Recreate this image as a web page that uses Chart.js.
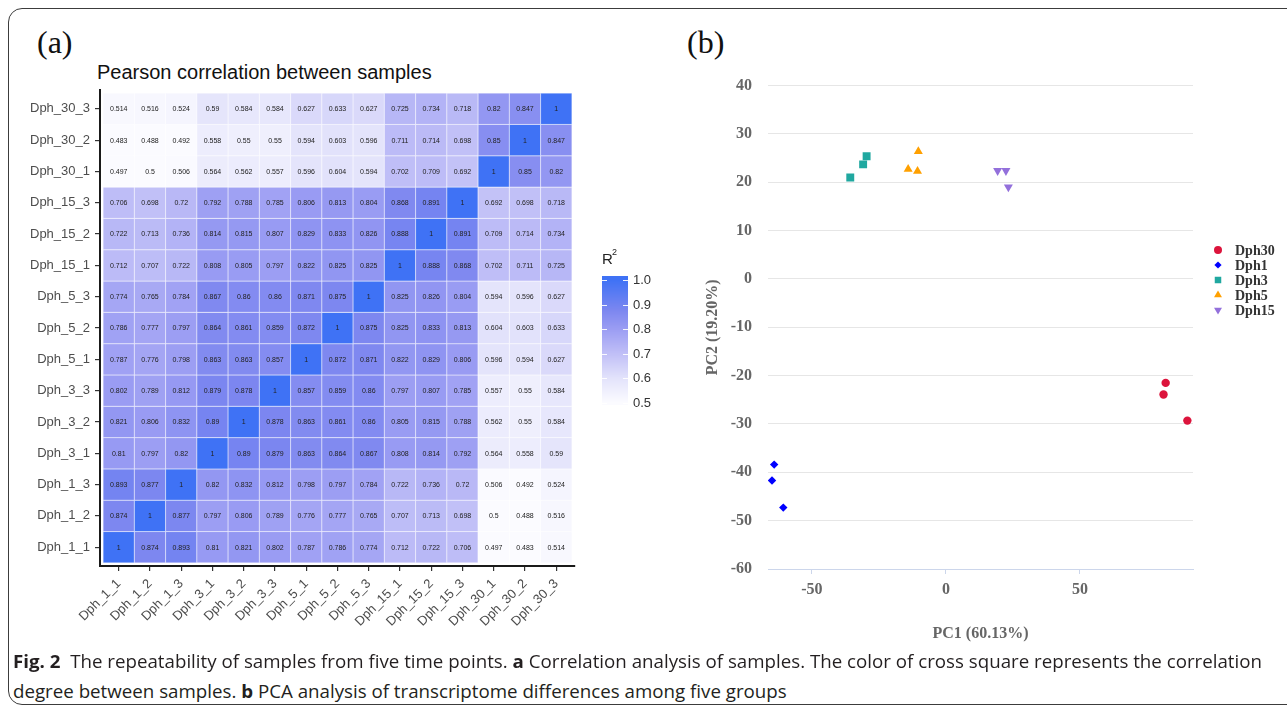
<!DOCTYPE html>
<html><head><meta charset="utf-8">
<script src="https://cdn.jsdelivr.net/npm/chart.js@4.4.1/dist/chart.umd.min.js"></script>
<style>
html,body{margin:0;padding:0;width:1287px;height:711px;overflow:hidden;background:#fff;}
#frame{position:absolute;left:8px;top:8px;width:1330px;height:697px;border:1.5px solid #3c3c3c;border-radius:14px;box-sizing:border-box;}
.panel{position:absolute;font-family:'Liberation Serif','Times New Roman',serif;font-size:32px;color:#111;line-height:32px;}
#pa{left:37px;top:26px;} #pb{left:687px;top:26px;}
#htitle{position:absolute;left:97px;top:60px;font-family:'Liberation Sans',Arial,sans-serif;font-size:20px;color:#111;line-height:24px;white-space:nowrap;}
#c1{position:absolute;left:0;top:0;}
#c2{position:absolute;left:690px;top:60px;}
.cl{position:absolute;left:13px;white-space:nowrap;font-family:'Liberation Sans Narrow','Open Sans','Liberation Sans',sans-serif;font-size:18.5px;line-height:30px;color:#231f20;transform-origin:0 50%;display:inline-block;}
.cl b{font-weight:bold;}
#l1{top:646px;} #l2{top:676px;}
</style></head>
<body>
<div id="frame"></div>
<div class="panel" id="pa">(a)</div>
<div class="panel" id="pb">(b)</div>
<div id="htitle">Pearson correlation between samples</div>
<canvas id="c1" width="690" height="640"></canvas>
<canvas id="c2" width="597" height="600"></canvas>
<div class="cl" id="l1"><b>Fig. 2</b>&nbsp; The repeatability of samples from five time points. <b>a</b> Correlation analysis of samples. The color of cross square represents the correlation</div>
<div class="cl" id="l2">degree between samples. <b>b</b> PCA analysis of transcriptome differences among five groups</div>
<script>
// ---------- DATA ----------
const samples = ['Dph_1_1','Dph_1_2','Dph_1_3','Dph_3_1','Dph_3_2','Dph_3_3','Dph_5_1','Dph_5_2','Dph_5_3','Dph_15_1','Dph_15_2','Dph_15_3','Dph_30_1','Dph_30_2','Dph_30_3'];
// rows follow the order of `samples` (bottom row first)
const corr_Dph_1_1  = [1,0.874,0.893,0.81,0.821,0.802,0.787,0.786,0.774,0.712,0.722,0.706,0.497,0.483,0.514];
const corr_Dph_1_2  = [0.874,1,0.877,0.797,0.806,0.789,0.776,0.777,0.765,0.707,0.713,0.698,0.5,0.488,0.516];
const corr_Dph_1_3  = [0.893,0.877,1,0.82,0.832,0.812,0.798,0.797,0.784,0.722,0.736,0.72,0.506,0.492,0.524];
const corr_Dph_3_1  = [0.81,0.797,0.82,1,0.89,0.879,0.863,0.864,0.867,0.808,0.814,0.792,0.564,0.558,0.59];
const corr_Dph_3_2  = [0.821,0.806,0.832,0.89,1,0.878,0.863,0.861,0.86,0.805,0.815,0.788,0.562,0.55,0.584];
const corr_Dph_3_3  = [0.802,0.789,0.812,0.879,0.878,1,0.857,0.859,0.86,0.797,0.807,0.785,0.557,0.55,0.584];
const corr_Dph_5_1  = [0.787,0.776,0.798,0.863,0.863,0.857,1,0.872,0.871,0.822,0.829,0.806,0.596,0.594,0.627];
const corr_Dph_5_2  = [0.786,0.777,0.797,0.864,0.861,0.859,0.872,1,0.875,0.825,0.833,0.813,0.604,0.603,0.633];
const corr_Dph_5_3  = [0.774,0.765,0.784,0.867,0.86,0.86,0.871,0.875,1,0.825,0.826,0.804,0.594,0.596,0.627];
const corr_Dph_15_1 = [0.712,0.707,0.722,0.808,0.805,0.797,0.822,0.825,0.825,1,0.888,0.868,0.702,0.711,0.725];
const corr_Dph_15_2 = [0.722,0.713,0.736,0.814,0.815,0.807,0.829,0.833,0.826,0.888,1,0.891,0.709,0.714,0.734];
const corr_Dph_15_3 = [0.706,0.698,0.72,0.792,0.788,0.785,0.806,0.813,0.804,0.868,0.891,1,0.692,0.698,0.718];
const corr_Dph_30_1 = [0.497,0.5,0.506,0.564,0.562,0.557,0.596,0.604,0.594,0.702,0.709,0.692,1,0.85,0.82];
const corr_Dph_30_2 = [0.483,0.488,0.492,0.558,0.55,0.55,0.594,0.603,0.596,0.711,0.714,0.698,0.85,1,0.847];
const corr_Dph_30_3 = [0.514,0.516,0.524,0.59,0.584,0.584,0.627,0.633,0.627,0.725,0.734,0.718,0.82,0.847,1];
const corrRows = [corr_Dph_1_1,corr_Dph_1_2,corr_Dph_1_3,corr_Dph_3_1,corr_Dph_3_2,corr_Dph_3_3,corr_Dph_5_1,corr_Dph_5_2,corr_Dph_5_3,corr_Dph_15_1,corr_Dph_15_2,corr_Dph_15_3,corr_Dph_30_1,corr_Dph_30_2,corr_Dph_30_3];
const colorbarTicks = [1.0,0.9,0.8,0.7,0.6,0.5];

const pcaGroups = ['Dph30','Dph1','Dph3','Dph5','Dph15'];
const pcaDph30 = [[82.0,-21.5],[81.2,-23.9],[90.1,-29.3]];
const pcaDph1  = [[-64.1,-38.4],[-64.9,-41.7],[-60.7,-47.3]];
const pcaDph3  = [[-35.7,21.0],[-30.9,23.7],[-29.6,25.4]];
const pcaDph5  = [[-14.1,22.7],[-10.6,22.3],[-10.3,26.4]];
const pcaDph15 = [[19.3,22.4],[22.4,22.4],[23.3,19.0]];
const pcaXTicks = [-50,0,50];
const pcaYTicks = [40,30,20,10,0,-10,-20,-30,-40,-50,-60];

// ---------- STYLE HELPERS ----------
const SANS = "'Liberation Sans', Arial, sans-serif";
const SERIF = "'Liberation Serif', 'Times New Roman', serif";
const colorStops = [[0.5,[251,251,255]],[0.6,[227,227,251]],[0.7,[192,191,247]],[0.8,[155,157,243]],[0.875,[125,135,240]],[1.0,[63,114,245]]];
function colorFor(v){
  if (v <= colorStops[0][0]) return 'rgb('+colorStops[0][1].join(',')+')';
  for (let k=1;k<colorStops.length;k++){
    const [v1,c1]=colorStops[k]; const [v0,c0]=colorStops[k-1];
    if (v <= v1){ const t=(v-v0)/(v1-v0); return 'rgb('+c0.map((c,i)=>Math.round(c+(c1[i]-c)*t)).join(',')+')'; }
  }
  return 'rgb('+colorStops[colorStops.length-1][1].join(',')+')';
}

// ---------- HEATMAP ----------
const cells = [];
corrRows.forEach((row,i)=>row.forEach((v,j)=>cells.push({x:j,y:i,v:v})));
function cellRadius(ctx){
  const s = ctx.chart.scales && ctx.chart.scales.x;
  if (!s) return 22;
  return Math.abs(s.getPixelForValue(1)-s.getPixelForValue(0))/Math.SQRT2;
}
const cellLabels = {id:'cellLabels', afterDatasetsDraw(chart){
  const ctx = chart.ctx, meta = chart.getDatasetMeta(0), data = chart.data.datasets[0].data;
  ctx.save(); ctx.font = '7px '+SANS; ctx.fillStyle = '#222'; ctx.textAlign='center'; ctx.textBaseline='middle';
  meta.data.forEach((pt,k)=>ctx.fillText(String(data[k].v), pt.x, pt.y+0.5));
  ctx.restore();
}};
const colorbar = {id:'colorbar', afterDraw(chart){
  const ctx = chart.ctx; const x0=602, w=26, yTop=276, yBot=405;
  const yOf = v => 280 + (1 - v)*246;
  ctx.save();
  for (let y=yTop; y<yBot; y++){
    const v = 1 - (y+0.5-280)/246;
    ctx.fillStyle = colorFor(Math.min(1,Math.max(0.5,v)));
    ctx.fillRect(x0, y, w, 1);
  }
  ctx.strokeStyle='rgba(255,255,255,0.9)'; ctx.lineWidth=1;
  ctx.font = '13px '+SANS; ctx.fillStyle='#333'; ctx.textAlign='left'; ctx.textBaseline='middle';
  colorbarTicks.forEach(t=>{
    const y = Math.round(yOf(t))+0.5;
    ctx.beginPath(); ctx.moveTo(x0,y); ctx.lineTo(x0+5,y); ctx.moveTo(x0+w-5,y); ctx.lineTo(x0+w,y); ctx.stroke();
    ctx.fillText(t.toFixed(1), 633, y);
  });
  ctx.font = '15px '+SANS; ctx.fillStyle='#222';
  ctx.fillText('R', 602, 260);
  ctx.font = '9px '+SANS;
  ctx.fillText('2', 612, 253);
  ctx.restore();
}};

new Chart(document.getElementById('c1'), {
  type:'scatter',
  data:{datasets:[{data:cells, pointStyle:'rect', pointRadius:cellRadius, pointHoverRadius:cellRadius,
    pointBackgroundColor:ctx=>colorFor(ctx.raw ? ctx.raw.v : 1), pointBorderColor:'rgba(255,255,255,0.45)', pointBorderWidth:1}]},
  options:{responsive:false, animation:false, events:[],
    layout:{padding:{left:0,top:90,right:115,bottom:0}},
    plugins:{legend:{display:false}, tooltip:{enabled:false}},
    scales:{
      x:{type:'linear', min:-0.6, max:14.6,
        afterBuildTicks:s=>{s.ticks = samples.map((_,i)=>({value:i}));},
        ticks:{callback:v=>samples[v], autoSkip:false, minRotation:45, maxRotation:45, font:{family:SANS,size:13}, color:'#4d4d4d', padding:5},
        grid:{drawOnChartArea:false, tickLength:5, tickColor:'#333', lineWidth:1.2},
        border:{display:true, color:'#1a1a1a', width:2},
        afterFit:s=>{s.height=74;}},
      y:{type:'linear', min:-0.6, max:14.6,
        afterBuildTicks:s=>{s.ticks = samples.map((_,i)=>({value:i}));},
        ticks:{callback:v=>samples[v], autoSkip:false, font:{family:SANS,size:13}, color:'#4d4d4d', padding:5},
        grid:{drawOnChartArea:false, tickLength:5, tickColor:'#333', lineWidth:1.2},
        border:{display:true, color:'#1a1a1a', width:2},
        afterFit:s=>{s.width=100;}}
    }},
  plugins:[cellLabels, colorbar]
});

// ---------- PCA ----------
const toPts = arr => arr.map(p=>({x:p[0], y:p[1]}));
const pcaStyles = [
  {style:'circle', r:4.2, rot:0, color:'#dc143c', lr:4},
  {style:'rectRot', r:4.2, rot:0, color:'#0000ff', lr:3.6},
  {style:'rect', r:5.6, rot:0, color:'#20a8a0', lr:4.6},
  {style:'triangle', r:5.2, rot:0, color:'#ffa000', lr:4.6},
  {style:'triangle', r:5.2, rot:180, color:'#9370db', lr:4.6}
];
const pcaData = [pcaDph30, pcaDph1, pcaDph3, pcaDph5, pcaDph15];
const pcaLegend = {id:'pcaLegend', afterDraw(chart){
  const ctx = chart.ctx;
  ctx.save();
  chart.data.datasets.forEach((ds,i)=>{
    const y = 190 + i*15;
    ctx.fillStyle = ds.pointBackgroundColor; ctx.strokeStyle = ds.pointBackgroundColor;
    if (Chart.helpers && Chart.helpers.drawPoint){
      Chart.helpers.drawPoint(ctx, {pointStyle:ds.pointStyle, radius:pcaStyles[i].lr, rotation:ds.pointRotation||0, borderWidth:0}, 528, y);
    } else { ctx.beginPath(); ctx.arc(528,y,4,0,Math.PI*2); ctx.fill(); }
    ctx.fillStyle='#333'; ctx.font='bold 14px '+SERIF; ctx.textAlign='left'; ctx.textBaseline='middle';
    ctx.fillText(ds.label, 545, y+1);
  });
  ctx.restore();
}};
new Chart(document.getElementById('c2'), {
  type:'scatter',
  data:{datasets: pcaGroups.map((g,i)=>({label:g, data:toPts(pcaData[i]), pointStyle:pcaStyles[i].style,
    pointRadius:pcaStyles[i].r, pointHoverRadius:pcaStyles[i].r, pointRotation:pcaStyles[i].rot,
    pointBackgroundColor:pcaStyles[i].color, pointBorderColor:pcaStyles[i].color, pointBorderWidth:0}))},
  options:{responsive:false, animation:false, events:[],
    layout:{padding:{left:0,top:24,right:94,bottom:0}},
    plugins:{legend:{display:false}, tooltip:{enabled:false}},
    scales:{
      x:{type:'linear', min:-66.4, max:92.2,
        afterBuildTicks:s=>{s.ticks = pcaXTicks.map(v=>({value:v}));},
        ticks:{font:{family:SERIF,size:16,weight:'bold'}, color:'#666', padding:6},
        grid:{drawOnChartArea:false, tickLength:5, tickColor:'#ccd6eb'},
        border:{display:true, color:'#ccd6eb', width:1},
        title:{display:true, text:'PC1 (60.13%)', font:{family:SERIF,size:16,weight:'bold'}, color:'#666', padding:{top:0,bottom:17}},
        afterFit:s=>{s.height=91;}},
      y:{type:'linear', min:-60, max:40,
        afterBuildTicks:s=>{s.ticks = pcaYTicks.map(v=>({value:v}));},
        ticks:{font:{family:SERIF,size:16,weight:'bold'}, color:'#666', padding:16},
        grid:{color:'#e6e6e6', drawTicks:false, lineWidth:1},
        border:{display:false},
        title:{display:true, text:'PC2 (19.20%)', font:{family:SERIF,size:16,weight:'bold'}, color:'#666', padding:{top:13,bottom:0}},
        afterFit:s=>{s.width=78;}}
    }},
  plugins:[pcaLegend]
});

// ---------- caption fit ----------
(function(){
  const l1=document.getElementById('l1'), l2=document.getElementById('l2');
  const w = l1.getBoundingClientRect().width;
  const k = 1249 / w;
  l1.style.transform = 'scaleX('+k+')'; l2.style.transform = 'scaleX('+k+')';
})();
</script>
</body></html>
